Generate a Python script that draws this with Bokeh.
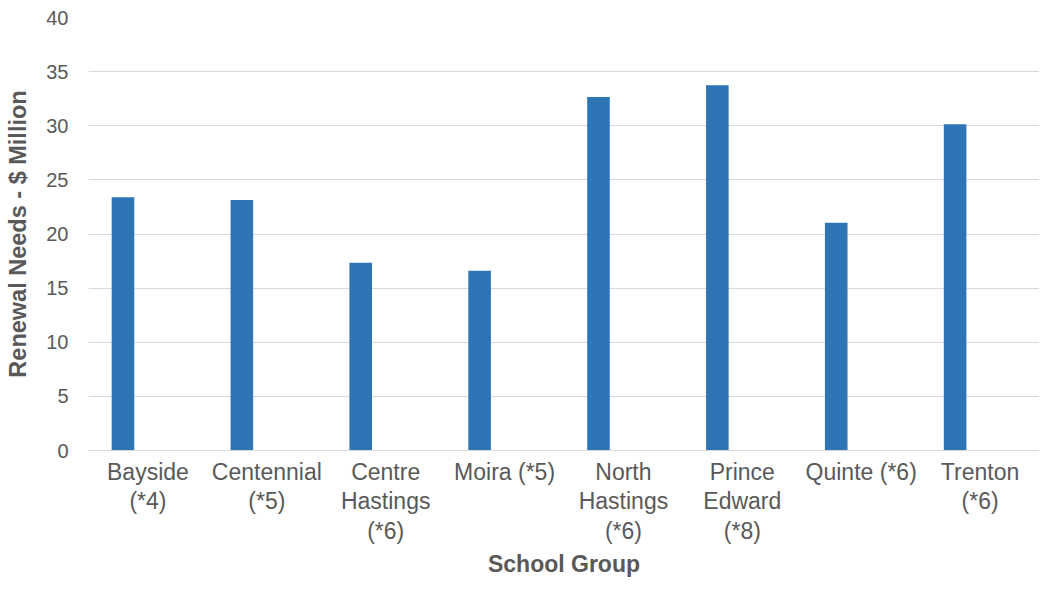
from bokeh.plotting import figure
from bokeh.models import ColumnDataSource, FixedTicker, FactorRange, Range1d
from bokeh.transform import dodge
from bokeh.embed import file_html
from bokeh.resources import INLINE

categories = ["Bayside\n(*4)", "Centennial\n(*5)", "Centre\nHastings\n(*6)", "Moira (*5)",
              "North\nHastings\n(*6)", "Prince\nEdward\n(*8)", "Quinte (*6)", "Trenton\n(*6)"]
values = [23.4, 23.15, 17.35, 16.6, 32.65, 33.75, 21.05, 30.15]
y_ticks = [0, 5, 10, 15, 20, 25, 30, 35, 40]

TEXT = "#595959"
FONT = "Liberation Sans"

src = ColumnDataSource(dict(cat=categories, val=values))

p = figure(width=1039, height=580, x_range=FactorRange(*categories), y_range=Range1d(0, 40),
           output_backend="svg", toolbar_location=None,
           min_border_left=88, min_border_right=0, min_border_top=17, min_border_bottom=0)
p.outline_line_color = None
p.background_fill_color = "white"

p.vbar(x=dodge("cat", -0.21, range=p.x_range), top="val", width=0.19, source=src,
       fill_color="#2E75B6", line_color=None)

p.xgrid.grid_line_color = None
p.ygrid.grid_line_color = "#D9D9D9"
p.ygrid.grid_line_width = 1
p.ygrid.ticker = FixedTicker(ticks=y_ticks)

p.yaxis.ticker = FixedTicker(ticks=y_ticks)
p.yaxis.axis_line_color = None
p.yaxis.major_tick_line_color = None
p.yaxis.minor_tick_line_color = None
p.yaxis.major_tick_out = 0
p.yaxis.major_label_standoff = 20
p.yaxis.major_label_text_font = FONT
p.yaxis.major_label_text_font_size = "20px"
p.yaxis.major_label_text_color = TEXT
p.yaxis.axis_label = "Renewal Needs - $ Million"
p.yaxis.axis_label_text_font = FONT
p.yaxis.axis_label_text_font_size = "23.5px"
p.yaxis.axis_label_text_font_style = "bold"
p.yaxis.axis_label_text_color = TEXT
p.yaxis.axis_label_standoff = 12

p.xaxis.axis_line_color = "#D9D9D9"
p.xaxis.major_tick_line_color = None
p.xaxis.minor_tick_line_color = None
p.xaxis.major_tick_out = 0
p.xaxis.major_label_standoff = 8
p.xaxis.major_label_orientation = "horizontal"
p.xaxis.major_label_text_font = FONT
p.xaxis.major_label_text_font_size = "23px"
p.xaxis.major_label_text_color = TEXT
p.xaxis.major_label_text_line_height = 1.15
p.xaxis.axis_label = "School Group"
p.xaxis.axis_label_text_font = FONT
p.xaxis.axis_label_text_font_size = "23px"
p.xaxis.axis_label_text_font_style = "bold"
p.xaxis.axis_label_text_color = TEXT
p.xaxis.axis_label_standoff = 4

open("out.html", "w").write(file_html(p, INLINE))
